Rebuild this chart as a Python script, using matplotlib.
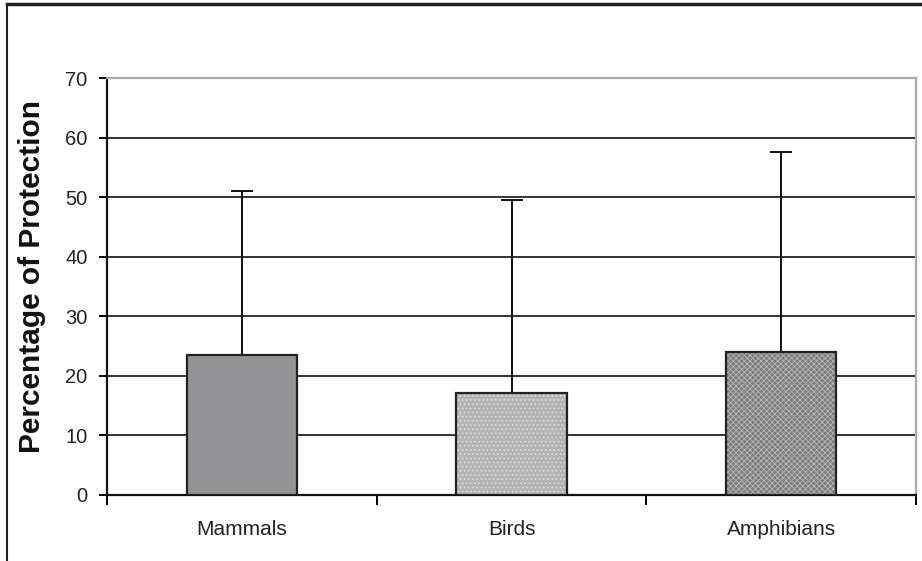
import matplotlib
matplotlib.use("Agg")
import matplotlib.pyplot as plt
from matplotlib.lines import Line2D
import numpy as np

plt.rcParams['font.family'] = ['Liberation Sans', 'DejaVu Sans']
plt.rcParams['hatch.linewidth'] = 0.6

# data
groups = ["Mammals", "Birds", "Amphibians"]
means = [23.5, 17.1, 24.0]
upper_err = [27.5, 32.4, 33.6]
colors = ["#949497", "#b4b4b6", "#7c7c7e"]
hatch_colors = [None, "#e6e6e6", "#b8b8b8"]
hatches = [None, "....", "xxxxxx"]

fig = plt.figure(figsize=(9.22, 5.61), dpi=100)
ax = fig.add_axes([107/922, 1 - 495/561, (916 - 107)/922, (495 - 78)/561])

x = np.arange(len(groups))
for i in range(len(groups)):
    ax.bar(x[i], means[i], width=0.41, color=colors[i], hatch=hatches[i],
           edgecolor=hatch_colors[i] or colors[i], linewidth=0, zorder=3)
    ax.bar(x[i], means[i], width=0.41, fill=False, edgecolor="#222222",
           linewidth=1.6, zorder=4)

ax.errorbar(x, means, yerr=[np.zeros(len(means)), upper_err], fmt="none",
            ecolor="#111111", elinewidth=1.4, capsize=8, capthick=1.4, zorder=2)

ax.set_xlim(-0.5, 2.5)
ax.set_ylim(0, 70)
ax.set_yticks(range(0, 71, 10))
ax.yaxis.grid(True, color="#111111", linewidth=1.2, zorder=0)
ax.set_axisbelow(True)

ax.set_xticks([-0.5, 0.5, 1.5, 2.5])
ax.set_xticklabels([])
ax.set_xticks(x, minor=True)
ax.set_xticklabels(groups, minor=True, fontsize=15, color="#222222")
ax.tick_params(axis="x", which="minor", length=0, pad=18)
ax.tick_params(axis="x", which="major", length=7, width=1.4, direction="out")
ax.tick_params(axis="y", length=6, width=1.4, direction="out", labelsize=14.5,
               labelcolor="#222222", pad=8)

for side in ["left", "bottom"]:
    ax.spines[side].set_linewidth(1.6)
    ax.spines[side].set_color("#111111")
for side in ["top", "right"]:
    ax.spines[side].set_linewidth(1.6)
    ax.spines[side].set_color("#aaaaaa")

ax.set_ylabel("Percentage of Protection", fontsize=21.5, fontweight="bold",
              color="#111111")
ax.yaxis.set_label_coords(-0.075, 0.523)

# outer frame (top and left edges visible)
fig.add_artist(Line2D([7/922, 1], [1 - 4/561, 1 - 4/561], color="#222222", lw=2.5))
fig.add_artist(Line2D([7/922, 7/922], [0, 1 - 4/561], color="#222222", lw=1.5))

fig.savefig("out.png", dpi=100)
